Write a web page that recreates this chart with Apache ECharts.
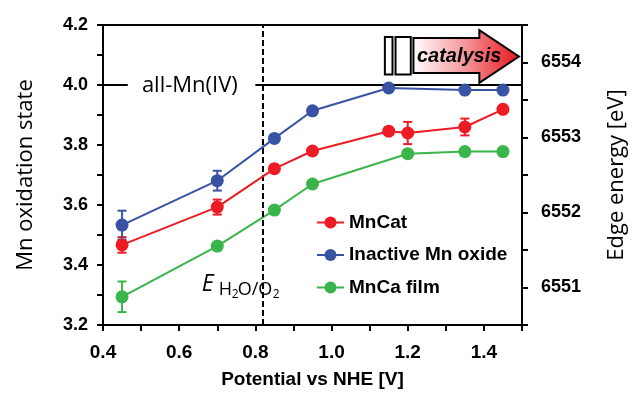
<!DOCTYPE html>
<html><head><meta charset="utf-8">
<script src="https://cdn.jsdelivr.net/npm/echarts@6/dist/echarts.min.js"></script>
<style>html,body{margin:0;padding:0;background:#fff}#c{width:636px;height:394px}</style>
</head><body><div id="c"></div>
<script>
// ---- data ----
const xMnCat = [0.45, 0.70, 0.85, 0.95, 1.15, 1.20, 1.35, 1.45];
const yMnCat = [3.467, 3.593, 3.721, 3.780, 3.846, 3.840, 3.860, 3.919];
const eMnCat = [0.026, 0.025, 0, 0, 0.012, 0.037, 0.028, 0];

const xInactive = [0.45, 0.70, 0.85, 0.95, 1.15, 1.35, 1.45];
const yInactive = [3.533, 3.681, 3.822, 3.914, 3.990, 3.983, 3.983];
const eInactive = [0.048, 0.033, 0.012, 0, 0.010, 0, 0];

const xMnCa = [0.45, 0.70, 0.85, 0.95, 1.20, 1.35, 1.45];
const yMnCa = [3.294, 3.463, 3.583, 3.670, 3.771, 3.778, 3.778];
const eMnCa = [0.051, 0, 0, 0, 0, 0, 0];

const seriesNames = ['MnCat', 'Inactive Mn oxide', 'MnCa film'];
const colors = ['#ed1c24', '#3953a4', '#39b54a'];
const E_H2O_O2 = 0.82;      // V, dashed line
const allMnIV = 4.0;        // oxidation state reference line
const xTicks = [0.4, 0.6, 0.8, 1.0, 1.2, 1.4];
const yTicks = [3.2, 3.4, 3.6, 3.8, 4.0, 4.2];
const edgeTicks = [6551, 6552, 6553, 6554];

const BOLD = 'Liberation Sans';
const REG = 'Open Sans';

const chart = echarts.init(document.getElementById('c'), null, {renderer: 'canvas'});

function pairs(xs, ys) { return xs.map((x, i) => [x, ys[i]]); }
function errs(xs, ys, es) {
  const out = [];
  xs.forEach((x, i) => { if (es[i] > 0) out.push([x, ys[i] - es[i], ys[i] + es[i]]); });
  return out;
}
function errSeries(data, color) {
  return {
    type: 'custom', silent: true, z: 3,
    encode: {x: 0, y: [1, 2]},
    data: data,
    renderItem: function (params, api) {
      const x = api.value(0), lo = api.value(1), hi = api.value(2);
      const a = api.coord([x, hi]), b = api.coord([x, lo]);
      const w = 4.5, st = {stroke: color, lineWidth: 2};
      return {type: 'group', children: [
        {type: 'line', shape: {x1: a[0], y1: a[1], x2: b[0], y2: b[1]}, style: st},
        {type: 'line', shape: {x1: a[0] - w, y1: a[1], x2: a[0] + w, y2: a[1]}, style: st},
        {type: 'line', shape: {x1: b[0] - w, y1: b[1], x2: b[0] + w, y2: b[1]}, style: st}
      ]};
    }
  };
}
function lineSeries(name, data, color, z) {
  return {
    name: name, type: 'line', data: data, z: z,
    symbol: 'circle', symbolSize: 13,
    itemStyle: {color: color},
    lineStyle: {color: color, width: 2}
  };
}
const axisBase = {
  axisLine: {show: true, onZero: false, lineStyle: {color: '#000', width: 2}},
  axisTick: {show: true, inside: false, length: 6, lineStyle: {color: '#000', width: 2}},
  splitLine: {show: false}
};

const option = {
  animation: false,
  backgroundColor: '#fff',
  grid: {left: 103, right: 107, top: 25, bottom: 69, show: true, borderColor: '#000', borderWidth: 2},
  legend: {
    data: seriesNames, orient: 'vertical', left: 311, top: 208,
    itemWidth: 27, itemHeight: 15, itemGap: 13.5,
    textStyle: {fontFamily: BOLD, fontWeight: 'bold', fontSize: 19, color: '#000'},
    selectedMode: false
  },
  xAxis: Object.assign({}, axisBase, {
    type: 'value', min: 0.4, max: 1.5, interval: 0.1,
    name: 'Potential vs NHE [V]', nameLocation: 'middle', nameGap: 45,
    nameTextStyle: {fontFamily: BOLD, fontWeight: 'bold', fontSize: 19, color: '#000'},
    axisLabel: {
      margin: 18, fontFamily: BOLD, fontWeight: 'bold', fontSize: 19, color: '#000',
      formatter: v => xTicks.some(t => Math.abs(t - v) < 1e-6) ? v.toFixed(1) : ''
    }
  }),
  yAxis: [
    Object.assign({}, axisBase, {
      type: 'value', min: 3.2, max: 4.2, interval: 0.1, position: 'left',
      name: 'Mn oxidation state', nameLocation: 'middle', nameGap: 66, nameRotate: 90,
      nameTextStyle: {fontFamily: REG, fontSize: 22, color: '#000'},
      axisLabel: {
        margin: 15, fontFamily: BOLD, fontWeight: 'bold', fontSize: 18, color: '#000',
        formatter: v => yTicks.some(t => Math.abs(t - v) < 1e-6) ? v.toFixed(1) : ''
      }
    }),
    Object.assign({}, axisBase, {
      type: 'value', min: 6550.5, max: 6554.5, interval: 0.5, position: 'right',
      name: 'Edge energy [eV]', nameLocation: 'middle', nameGap: 84, nameRotate: 90,
      nameTextStyle: {fontFamily: REG, fontSize: 22, color: '#000'},
      axisLabel: {
        margin: 19, fontFamily: BOLD, fontWeight: 'bold', fontSize: 18, color: '#000',
        formatter: v => edgeTicks.some(t => Math.abs(t - v) < 1e-6) ? String(Math.round(v)) : ''
      }
    })
  ],
  series: [
    {
      type: 'line', data: [], silent: true, z: 1,
      markLine: {
        silent: true, symbol: 'none', label: {show: false},
        lineStyle: {color: '#000', width: 2, type: 'solid'},
        data: [
          [{coord: [0.4, allMnIV]}, {coord: [0.465, allMnIV]}],
          [{coord: [0.80, allMnIV]}, {coord: [1.5, allMnIV]}],
          [{coord: [E_H2O_O2, 3.2], lineStyle: {type: [6, 3], width: 2, color: '#000'}},
           {coord: [E_H2O_O2, 4.2]}]
        ]
      }
    },
    errSeries(errs(xMnCat, yMnCat, eMnCat), colors[0]),
    errSeries(errs(xInactive, yInactive, eInactive), colors[1]),
    errSeries(errs(xMnCa, yMnCa, eMnCa), colors[2]),
    lineSeries(seriesNames[2], pairs(xMnCa, yMnCa), colors[2], 4),
    lineSeries(seriesNames[0], pairs(xMnCat, yMnCat), colors[0], 5),
    lineSeries(seriesNames[1], pairs(xInactive, yInactive), colors[1], 6)
  ]
};
chart.setOption(option);

// ---- annotations anchored in data space ----
const P = (x, y) => chart.convertToPixel({xAxisIndex: 0, yAxisIndex: 0}, [x, y]);
const r1a = P(1.14, 4.16), r1b = P(1.16, 4.035);
const r2a = P(1.168, 4.16), r2b = P(1.208, 4.035);
const bodyL = P(1.215, 4.157), bodyR = P(1.388, 4.04);
const headTop = P(1.388, 4.183), headBot = P(1.388, 4.007), tip = P(1.492, 4.095);
const catC = P(1.335, 4.095);
const allC = P(0.628, allMnIV);
const eA = P(0.659, 3.313);

const graphics = [
  {type: 'text', z: 10, x: allC[0], y: allC[1] + 1,
   style: {text: 'all-Mn(IV)', font: '22px "' + REG + '"', fill: '#000', align: 'center', verticalAlign: 'middle'}},
  {type: 'rect', z: 10, shape: {x: r1a[0], y: r1a[1], width: r1b[0] - r1a[0], height: r1b[1] - r1a[1]},
   style: {fill: '#fff', stroke: '#000', lineWidth: 2}},
  {type: 'rect', z: 10, shape: {x: r2a[0], y: r2a[1], width: r2b[0] - r2a[0], height: r2b[1] - r2a[1]},
   style: {fill: '#fff', stroke: '#000', lineWidth: 2}},
  {type: 'polygon', z: 10,
   shape: {points: [
     [bodyL[0], bodyL[1]], [bodyR[0], bodyL[1]], [headTop[0], headTop[1]], [tip[0], tip[1]],
     [headBot[0], headBot[1]], [bodyR[0], bodyR[1]], [bodyL[0], bodyR[1]]
   ]},
   style: {
     fill: new echarts.graphic.LinearGradient(0, 0, 1, 0, [
       {offset: 0, color: '#ffffff'}, {offset: 0.45, color: '#f5a0a2'}, {offset: 1, color: '#e8141c'}
     ]),
     stroke: '#000', lineWidth: 2, lineJoin: 'miter'
   }},
  {type: 'text', z: 11, x: catC[0], y: catC[1],
   style: {text: 'catalysis', font: 'italic bold 20px "' + BOLD + '"', fill: '#000', align: 'center', verticalAlign: 'middle'}},
  {type: 'text', z: 10, x: eA[0], y: eA[1] - 7,
   style: {text: 'E', font: 'italic 23px "' + REG + '"', fill: '#000', align: 'left', verticalAlign: 'middle'}},
  {type: 'text', z: 10, x: eA[0] + 17, y: eA[1] - 1,
   style: {text: 'H', font: '18px "' + REG + '"', fill: '#000', align: 'left', verticalAlign: 'middle'}},
  {type: 'text', z: 10, x: eA[0] + 30, y: eA[1] + 3,
   style: {text: '2', font: '12px "' + REG + '"', fill: '#000', align: 'left', verticalAlign: 'middle'}},
  {type: 'text', z: 10, x: eA[0] + 36, y: eA[1] - 1,
   style: {text: 'O/O', font: '18px "' + REG + '"', fill: '#000', align: 'left', verticalAlign: 'middle'}},
  {type: 'text', z: 10, x: eA[0] + 71, y: eA[1] + 3,
   style: {text: '2', font: '12px "' + REG + '"', fill: '#000', align: 'left', verticalAlign: 'middle'}}
];
chart.setOption({graphic: graphics});
</script>
</body></html>
